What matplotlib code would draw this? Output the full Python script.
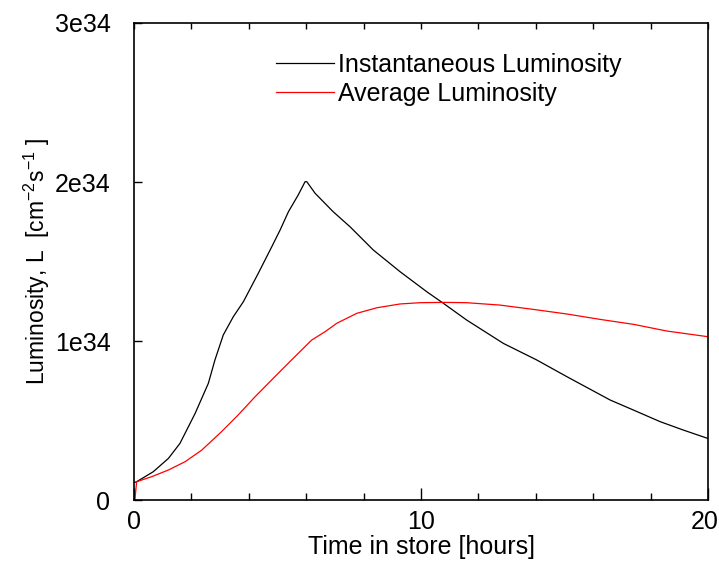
import numpy as np
import matplotlib
matplotlib.use('Agg')
import matplotlib.pyplot as plt
import matplotlib.transforms as mtransforms

plt.rcParams['font.family'] = ['Liberation Sans', 'DejaVu Sans']
plt.rcParams['mathtext.fontset'] = 'custom'
plt.rcParams['mathtext.rm'] = 'Liberation Sans'
plt.rcParams['mathtext.it'] = 'Liberation Sans'

# Instantaneous luminosity (units of 1e34 cm^-2 s^-1) vs time in store (hours)
t_inst = [0.0, 0.09, 0.67, 1.20, 1.60, 2.13, 2.59, 2.82, 3.11, 3.46, 3.81,
          4.33, 4.80, 5.09, 5.38, 5.72, 5.96, 6.02, 6.31, 6.94, 7.53, 8.34,
          9.27, 10.20, 10.78, 11.59, 12.87, 14.03, 15.08, 16.59, 17.40,
          18.33, 19.14, 20.0]
l_inst = [0.11, 0.115, 0.178, 0.262, 0.356, 0.545, 0.734, 0.881, 1.038,
          1.153, 1.247, 1.426, 1.593, 1.698, 1.813, 1.918, 2.002, 2.002,
          1.929, 1.813, 1.718, 1.572, 1.436, 1.310, 1.237, 1.132, 0.985,
          0.881, 0.776, 0.629, 0.566, 0.493, 0.440, 0.387]

# Average luminosity
t_avg = [0.03, 0.09, 0.62, 1.20, 1.78, 2.36, 3.05, 3.63, 4.22, 4.91, 5.49,
         6.19, 6.66, 7.06, 7.76, 8.46, 9.27, 9.97, 10.78, 11.59, 12.75,
         13.91, 15.08, 16.24, 17.40, 18.56, 20.0]
l_avg = [0.0, 0.115, 0.147, 0.189, 0.241, 0.314, 0.430, 0.535, 0.650, 0.776,
         0.881, 1.006, 1.059, 1.111, 1.174, 1.209, 1.233, 1.241, 1.243,
         1.241, 1.226, 1.199, 1.170, 1.136, 1.105, 1.063, 1.027]

y_ticks = [0, 1e34, 2e34, 3e34]
y_ticklabels = ['0', '1e34', '2e34', '3e34']
x_ticks = [0, 10, 20]

scale = 1e34

fig = plt.figure(figsize=(7.19, 5.65), dpi=100)
ax = fig.add_axes([0.1864, 0.115, 0.7983, 0.8443])

ax.plot(t_inst, np.array(l_inst) * scale, color='black', linewidth=0.9,
        label='Instantaneous Luminosity')
ax.plot(t_avg, np.array(l_avg) * scale, color='#ff0000', linewidth=0.9,
        label='Average Luminosity')

ax.set_xlim(0, 20)
ax.set_ylim(0, 3e34)

ax.set_xticks(x_ticks)
ax.set_xticks(np.arange(2, 20, 2), minor=True)
ax.set_yticks(y_ticks)
ax.set_yticklabels(y_ticklabels)

ax.tick_params(axis='x', which='major', direction='in', length=9, width=1,
               labelsize=18, pad=7)
ax.tick_params(axis='x', which='minor', direction='in', length=5, width=1)
ax.tick_params(axis='y', which='major', direction='in', length=6, width=1,
               labelsize=18, pad=17)

# nudge the last x label so it stays inside the figure
last = ax.get_xticklabels()[-1]
last.set_transform(last.get_transform() +
                   mtransforms.ScaledTranslation(-3 / 100, 0, fig.dpi_scale_trans))

# ticks on the top spine every 2 hours, no labels
top = ax.secondary_xaxis('top')
top.set_xticks(np.arange(0, 21, 2))
top.tick_params(direction='in', length=4, width=1, labeltop=False)
top.spines['top'].set_visible(False)

for spine in ax.spines.values():
    spine.set_linewidth(1.2)

ax.set_xlabel('Time in store [hours]', fontsize=18, labelpad=1)
ax.set_ylabel(r'Luminosity, L  [cm$^{-2}$s$^{-1}$ ]', fontsize=16.5, labelpad=2)

ax.legend(loc='upper left', bbox_to_anchor=(0.2295, 0.958), frameon=False,
          fontsize=18, handlelength=2.35, handletextpad=0.15,
          labelspacing=0.2, borderaxespad=0)

fig.savefig('out.png', dpi=100)
